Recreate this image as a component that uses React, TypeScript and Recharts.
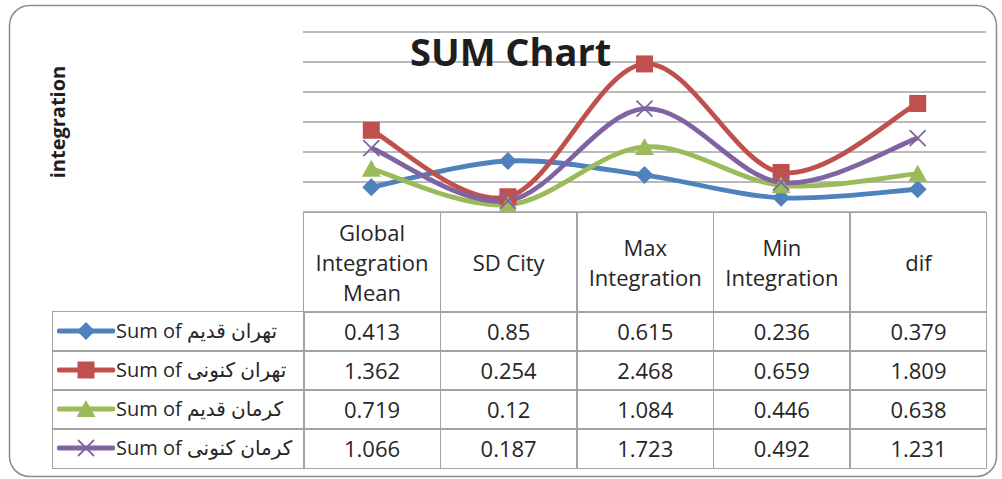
import React from 'react';
import { LineChart, Line, XAxis, YAxis, CartesianGrid } from 'recharts';

const categories = ['Global Integration Mean', 'SD City', 'Max Integration', 'Min Integration', 'dif'];
const tehranOld = [0.413, 0.85, 0.615, 0.236, 0.379];
const tehranNow = [1.362, 0.254, 2.468, 0.659, 1.809];
const kermanOld = [0.719, 0.12, 1.084, 0.446, 0.638];
const kermanNow = [1.066, 0.187, 1.723, 0.492, 1.231];
const yTicks = [0, 0.5, 1, 1.5, 2, 2.5, 3];

const series = [
  { key: 'tehranOld', label: 'Sum of تهران قدیم', color: '#4F81BD', shape: 'diamond', values: tehranOld },
  { key: 'tehranNow', label: 'Sum of تهران کنونی', color: '#C0504D', shape: 'square', values: tehranNow },
  { key: 'kermanOld', label: 'Sum of کرمان قدیم', color: '#9BBB59', shape: 'triangle', values: kermanOld },
  { key: 'kermanNow', label: 'Sum of کرمان کنونی', color: '#8064A2', shape: 'x', values: kermanNow },
];

const chartData = categories.map((name, i) => {
  const row: any = { name };
  series.forEach((s) => (row[s.key] = s.values[i]));
  return row;
});

// Excel-like smoothing (Catmull-Rom through every point)
const excelSmooth = (context: any) => {
  let pts: number[][] = [];
  return {
    areaStart() {},
    areaEnd() {},
    lineStart() {
      pts = [];
    },
    point(x: number, y: number) {
      pts.push([+x, +y]);
    },
    lineEnd() {
      if (!pts.length) return;
      context.moveTo(pts[0][0], pts[0][1]);
      for (let i = 0; i < pts.length - 1; i++) {
        const p0 = pts[i - 1] || pts[i];
        const p1 = pts[i];
        const p2 = pts[i + 1];
        const p3 = pts[i + 2] || pts[i + 1];
        context.bezierCurveTo(
          p1[0] + (p2[0] - p0[0]) / 6,
          p1[1] + (p2[1] - p0[1]) / 6,
          p2[0] - (p3[0] - p1[0]) / 6,
          p2[1] - (p3[1] - p1[1]) / 6,
          p2[0],
          p2[1]
        );
      }
    },
  };
};

const Marker = ({ shape, color, cx, cy }: { shape: string; color: string; cx: number; cy: number }) => {
  if (shape === 'diamond') {
    return <polygon points={`${cx},${cy - 9} ${cx + 9},${cy} ${cx},${cy + 9} ${cx - 9},${cy}`} fill={color} />;
  }
  if (shape === 'square') {
    return <rect x={cx - 8.5} y={cy - 8.5} width={17} height={17} fill={color} />;
  }
  if (shape === 'triangle') {
    return <polygon points={`${cx},${cy - 9} ${cx + 9.5},${cy + 8} ${cx - 9.5},${cy + 8}`} fill={color} />;
  }
  return (
    <g stroke={color} strokeWidth={1.8}>
      <line x1={cx - 8} y1={cy - 8} x2={cx + 8} y2={cy + 8} />
      <line x1={cx - 8} y1={cy + 8} x2={cx + 8} y2={cy - 8} />
    </g>
  );
};

const FONT = "'Open Sans', 'DejaVu Sans', sans-serif";
const BORDER = '1.5px solid #a3a3a3';
const tableLeft = 52;
const legendW = 251;
const colW = 136.6;
const headTop = 212;
const headH = 99;
const rowH = 39;

const cell = (left: number, top: number, width: number, height: number): React.CSSProperties => ({
  position: 'absolute',
  left,
  top,
  width: width + 1.5,
  height: height + 1.5,
  boxSizing: 'border-box',
  border: BORDER,
  display: 'flex',
  alignItems: 'center',
  justifyContent: 'center',
  textAlign: 'center',
  fontFamily: FONT,
  fontSize: 22,
  lineHeight: '30px',
  color: '#262626',
});

const App: React.FC = () => {
  const dataLeft = tableLeft + legendW;
  return (
    <div style={{ position: 'absolute', left: 0, top: 0, width: 1002, height: 479, background: '#fff' }}>
      <svg width={1002} height={479} style={{ position: 'absolute', left: 0, top: 0 }}>
        <rect x={9.5} y={5.5} width={987} height={471} rx={20} fill="#fff" stroke="#8c8c8c" strokeWidth={1.5} />
      </svg>
      <div style={{ position: 'absolute', left: 0, top: 0 }}>
        <LineChart width={1002} height={479} data={chartData} margin={{ top: 32, left: 303, right: 16, bottom: 267 }}>
          <CartesianGrid vertical={false} stroke="#a3a3a3" strokeWidth={1.5} />
          <XAxis dataKey="name" hide padding={{ left: 68.3, right: 68.3 }} />
          <YAxis hide domain={[0, 3]} ticks={yTicks} />
          {series.map((s) => (
            <Line
              key={s.key}
              dataKey={s.key}
              type={excelSmooth as any}
              stroke={s.color}
              strokeWidth={4.8}
              isAnimationActive={false}
              activeDot={false}
              dot={(p: any) => <Marker key={p.index} shape={s.shape} color={s.color} cx={p.cx} cy={p.cy} />}
            />
          ))}
        </LineChart>
      </div>

      {categories.map((c, i) => (
        <div key={c} style={cell(dataLeft + i * colW, headTop, colW, headH)}>
          <div style={{ padding: '0 8px' }}>{c}</div>
        </div>
      ))}
      {series.map((s, r) => (
        <React.Fragment key={s.key}>
          <div
            style={{
              ...cell(tableLeft, headTop + headH + r * rowH, legendW, rowH),
              justifyContent: 'flex-start',
              whiteSpace: 'nowrap',
              fontSize: 20,
            }}
          >
            <svg width={58} height={20} style={{ marginLeft: 4, flex: 'none' }}>
              <line x1={2} y1={10} x2={56} y2={10} stroke={s.color} strokeWidth={4.8} strokeLinecap="round" />
              <Marker shape={s.shape} color={s.color} cx={29} cy={10} />
            </svg>
            <span style={{ marginLeft: 1 }}>{s.label}</span>
          </div>
          {s.values.map((v, i) => (
            <div key={i} style={cell(dataLeft + i * colW, headTop + headH + r * rowH, colW, rowH)}>
              {String(v)}
            </div>
          ))}
        </React.Fragment>
      ))}

      <svg width={1002} height={479} style={{ position: 'absolute', left: 0, top: 0, pointerEvents: 'none' }}>
        <text x={410} y={66} fontFamily={FONT} fontWeight={700} fontSize={38} fill="#1e1e1e">
          SUM Chart
        </text>
        <text
          x={57}
          y={122}
          transform="rotate(-90, 57, 122)"
          textAnchor="middle"
          dominantBaseline="central"
          fontFamily={FONT}
          fontWeight={700}
          fontSize={20}
          fill="#1e1e1e"
        >
          integration
        </text>
      </svg>
    </div>
  );
};

export default App;
